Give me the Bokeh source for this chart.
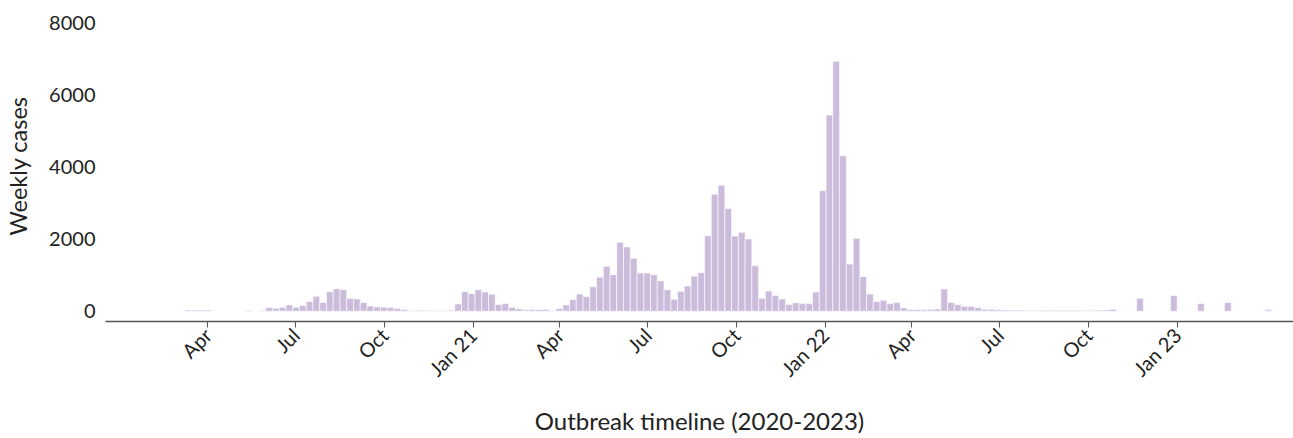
import math
import numpy as np
import pandas as pd
from bokeh.plotting import figure
from bokeh.models import ColumnDataSource, FixedTicker, Range1d
from bokeh.embed import file_html
from bokeh.resources import INLINE

# ---- data ----
week_start = "2020-03-08"
cases = [
    30, 30, 30, 30, None, None, None, None, None, 25,
    None, 25, 100, 83, 110, 175, 110, 157, 267, 414,
    240, 543, 626, 598, 350, 340, 240, 147, 120, 110,
    105, 78, 46, 20, 28, 28, 20, 20, 20, 28,
    203, 543, 488, 599, 534, 470, 184, 212, 110, 64,
    37, 46, 46, 46, 20, 74, 175, 322, 479, 405,
    681, 945, 1250, 1013, 1915, 1786, 1473, 1059, 1059, 1013,
    847, 599, 331, 552, 700, 976, 1068, 2099, 3250, 3499,
    2855, 2090, 2192, 2007, 1262, 359, 562, 433, 341, 184,
    235, 212, 212, 534, 3350, 5451, 6943, 4319, 1308, 2026,
    958, 479, 267, 304, 212, 239, 92, 46, 46, 37,
    46, 64, 617, 239, 184, 138, 129, 101, 55, 55,
    37, 30, 30, 30, 25, 20, 25, 25, 25, 25,
    25, 25, 25, 20, 25, 30, 35, 55, None, None,
    None, 359, None, None, None, None, 433, None, None, None,
    212, None, None, None, 239, None, None, None, None, None,
    37,
]
tick_dates = ["2020-04-01", "2020-07-01", "2020-10-01", "2021-01-01",
              "2021-04-01", "2021-07-01", "2021-10-01", "2022-01-01",
              "2022-04-01", "2022-07-01", "2022-10-01", "2023-01-01"]
tick_labels = ["Apr", "Jul", "Oct", "Jan 21", "Apr", "Jul", "Oct", "Jan 22",
               "Apr", "Jul", "Oct", "Jan 23"]
y_ticks = [0, 2000, 4000, 6000, 8000]

# ---- build ----
origin = pd.Timestamp("2020-01-01")
weeks = pd.date_range(week_start, periods=len(cases), freq="7D")
x_days = ((weeks - origin).days + 3.5).astype(float)
vals = np.array([np.nan if v is None else v for v in cases], dtype=float)
src = ColumnDataSource(dict(x=x_days, cases=vals))

tick_days = [int((pd.Timestamp(d) - origin).days) for d in tick_dates]

FONT = "Lato"
TXT = "#222222"

p = figure(width=1293, height=438, output_backend="svg", toolbar_location=None,
           x_range=Range1d(-15.1, 1216.6), y_range=Range1d(-286, 8353),
           min_border_left=105, min_border_right=0, min_border_top=10,
           min_border_bottom=117)
p.outline_line_color = None
p.grid.visible = False

p.vbar(x="x", top="cases", bottom=0, width=7, source=src,
       fill_color="#cbbcdc", line_color="white", line_alpha=0.6, line_width=1)

# x axis
xa = p.xaxis[0]
xa.ticker = FixedTicker(ticks=tick_days)
xa.major_label_overrides = {d: l for d, l in zip(tick_days, tick_labels)}
xa.major_label_orientation = math.pi / 4
xa.minor_tick_line_color = None
xa.major_tick_in = 0
xa.major_tick_out = 6
xa.axis_line_color = "#555555"
xa.axis_line_width = 1.5
xa.major_tick_line_color = "#555555"
xa.major_label_text_font = FONT
xa.major_label_text_font_size = "20px"
xa.major_label_text_color = TXT
xa.major_label_standoff = 4
xa.axis_label = "Outbreak timeline (2020-2023)"
xa.axis_label_text_font = FONT
xa.axis_label_text_font_size = "24px"
xa.axis_label_text_font_style = "normal"
xa.axis_label_text_color = TXT
xa.axis_label_standoff = 14

# y axis
ya = p.yaxis[0]
ya.ticker = FixedTicker(ticks=y_ticks)
ya.axis_line_color = None
ya.major_tick_line_color = None
ya.minor_tick_line_color = None
ya.major_label_text_font = FONT
ya.major_label_text_font_size = "20px"
ya.major_label_text_color = TXT
ya.major_label_standoff = 4
ya.axis_label = "Weekly cases"
ya.axis_label_text_font = FONT
ya.axis_label_text_font_size = "23.5px"
ya.axis_label_text_font_style = "normal"
ya.axis_label_text_color = TXT
ya.axis_label_standoff = 14

open("out.html", "w").write(file_html(p, INLINE))
